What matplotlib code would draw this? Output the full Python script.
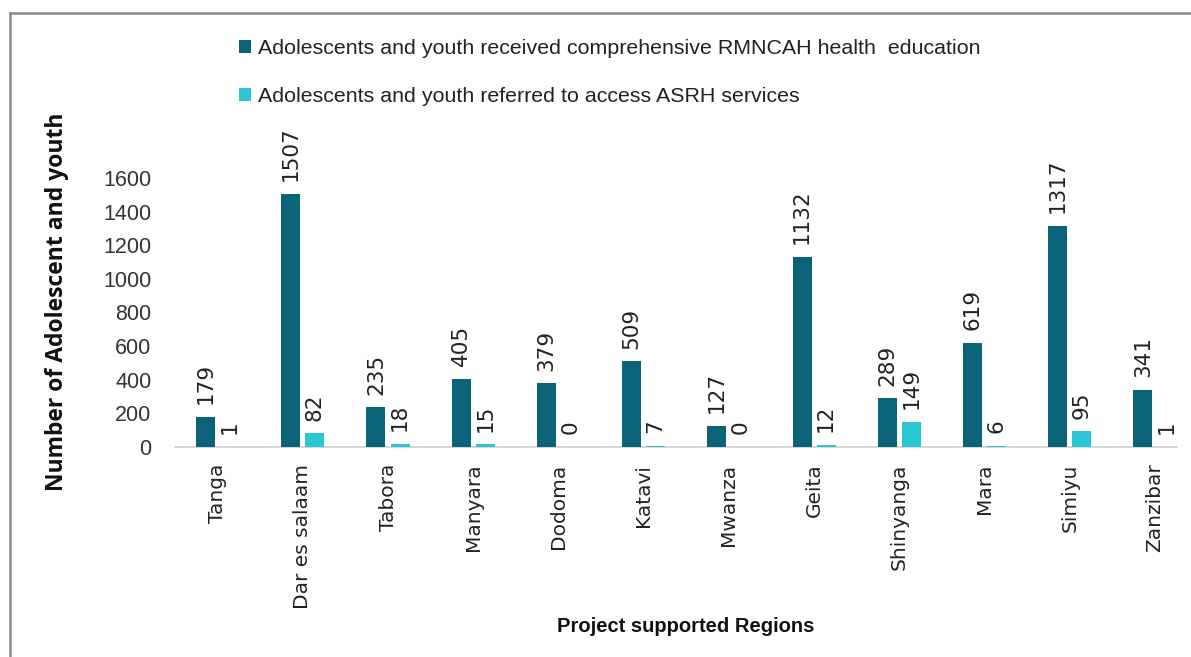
import matplotlib
matplotlib.use("Agg")
import matplotlib.pyplot as plt
from matplotlib import font_manager
from matplotlib.patches import Patch
from matplotlib.lines import Line2D
import numpy as np

regions = ["Tanga", "Dar es salaam", "Tabora", "Manyara", "Dodoma", "Katavi",
           "Mwanza", "Geita", "Shinyanga", "Mara", "Simiyu", "Zanzibar"]
educated = [179, 1507, 235, 405, 379, 509, 127, 1132, 289, 619, 1317, 341]
referred = [1, 82, 18, 15, 0, 7, 0, 12, 149, 6, 95, 1]
series_names = ["Adolescents and youth received comprehensive RMNCAH health  education",
                "Adolescents and youth referred to access ASRH services"]
yticks = [0, 200, 400, 600, 800, 1000, 1200, 1400, 1600]

names = {f.name for f in font_manager.fontManager.ttflist}
narrow = "Liberation Sans"
bold_font = "Open Sans" if "Open Sans" in names else "DejaVu Sans"

c_dark = "#0B6378"
c_light = "#2BC6D3"

W, H = 1191, 657
fig = plt.figure(figsize=(W / 100, H / 100), dpi=100)

def px(x, y):
    return x / W, 1 - y / H

ax_left, ax_right, ax_top, ax_bot = 175, 1177, 178, 447
ax = fig.add_axes([ax_left / W, 1 - ax_bot / H, (ax_right - ax_left) / W, (ax_bot - ax_top) / H])

x = np.arange(len(regions))
bw = 0.223
off = 0.141
b1 = ax.bar(x - off, educated, width=bw, color=c_dark, zorder=3)
b2 = ax.bar(x + off, referred, width=bw, color=c_light, zorder=3)

for bars, vals in ((b1, educated), (b2, referred)):
    for r, v in zip(bars, vals):
        ax.annotate(str(v), (r.get_x() + r.get_width() / 2, r.get_height()),
                    xytext=(0, 9), textcoords="offset points", rotation=90,
                    ha="center", va="bottom", fontsize=15.5, family="DejaVu Sans",
                    color="#222222", annotation_clip=False)

ax.set_xlim(-0.5, 11.26)
ax.set_ylim(0, 1600)
ax.set_yticks(yticks)
ax.set_yticklabels([str(t) for t in yticks], family=narrow, fontsize=15.5, color="#333333")
ax.set_xticks(x)
ax.set_xticklabels(regions, rotation=90, family="DejaVu Sans", fontsize=14.5, color="#222222")
ax.tick_params(axis="y", length=0, pad=17)
ax.tick_params(axis="x", length=0, pad=12)
for s in ("top", "right", "left"):
    ax.spines[s].set_visible(False)
ax.spines["bottom"].set_color("#d0d0d0")
ax.spines["bottom"].set_linewidth(1.2)
ax.set_facecolor("none")

fig.text(*px(57, 302), "Number of Adolescent and youth", rotation=90, ha="center", va="center",
         family=bold_font, fontweight="bold", fontsize=16.5, color="#111111")
fig.text(*px(686, 627), "Project supported Regions", ha="center", va="center",
         family=narrow, fontweight="bold", fontsize=14.5, color="#111111")

handles = [Patch(facecolor=c_dark), Patch(facecolor=c_light)]
leg = fig.legend(handles, series_names, loc="upper left", bbox_to_anchor=px(239, 39),
                 frameon=False, prop={"family": narrow, "size": 15.4},
                 handlelength=0.55, handleheight=0.6, handletextpad=0.35,
                 labelspacing=1.35, borderaxespad=0, borderpad=0)
for t in leg.get_texts():
    t.set_color("#222222")

# outer frame of the screenshot
fig.add_artist(Line2D([10 / W, 10 / W], [0, 1 - 13 / H], transform=fig.transFigure,
                      color="#8a8a8a", lw=1.8))
fig.add_artist(Line2D([10 / W, 1], [1 - 13 / H, 1 - 13 / H], transform=fig.transFigure,
                      color="#8a8a8a", lw=1.8))

fig.savefig("out.png", dpi=100)
